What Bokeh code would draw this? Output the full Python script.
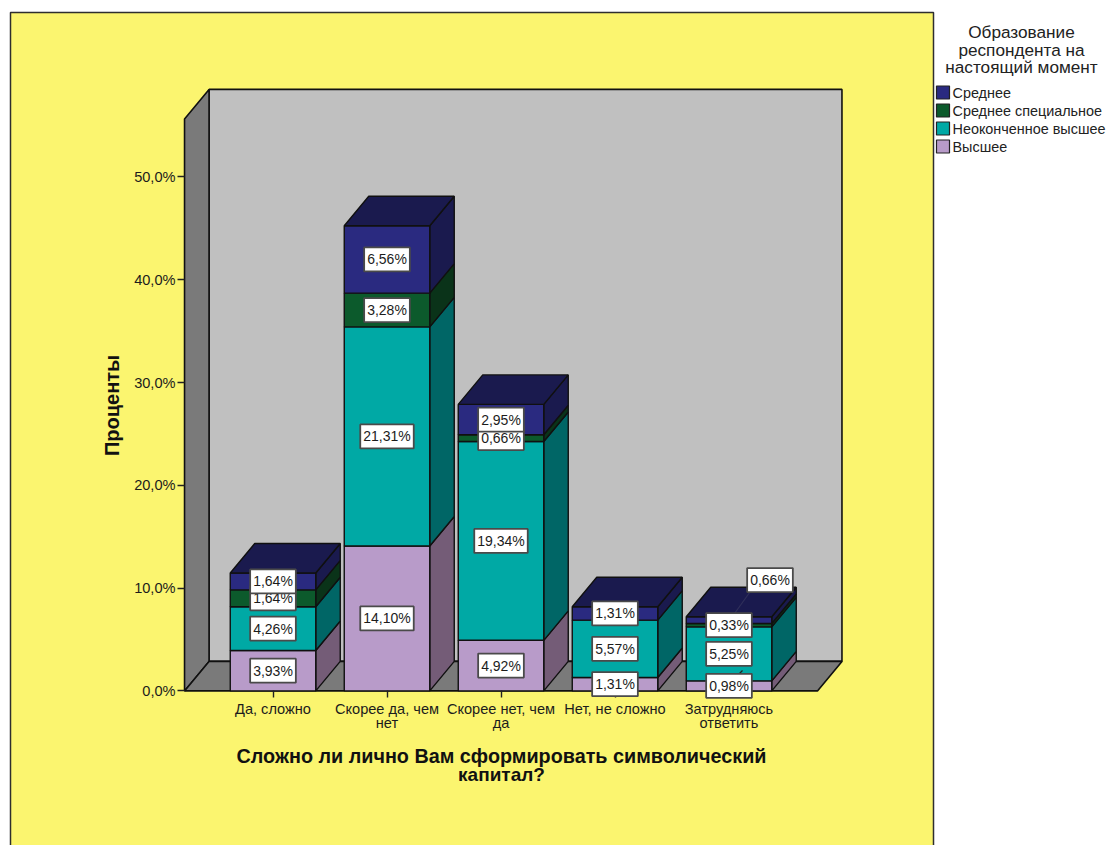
from bokeh.embed import file_html
from bokeh.resources import INLINE
from bokeh.plotting import figure
from bokeh.models import BoxAnnotation, FixedTicker, Label, LinearAxis, Range1d
from bokeh.core.properties import value

# Survey results, percent of respondents
categories = ["Да, сложно", "Скорее да, чем\nнет", "Скорее нет, чем\nда", "Нет, не сложно", "Затрудняюсь\nответить"]
vysshee = [3.93, 14.10, 4.92, 1.31, 0.98]
neokonchennoe = [4.26, 21.31, 19.34, 5.57, 5.25]
spetsialnoe = [1.64, 3.28, 0.66, 0.00, 0.33]
srednee = [1.64, 6.56, 2.95, 1.31, 0.66]

series_names = ["Высшее", "Неоконченное высшее", "Среднее специальное", "Среднее"]
series_values = [vysshee, neokonchennoe, spetsialnoe, srednee]
front_colors = ["#B89BC9", "#00A9A5", "#0C5A2C", "#2A2A80"]
side_colors = ["#745C77", "#006666", "#0A3319", "#1A1A4E"]
y_ticks = [0, 10, 20, 30, 40, 50]
y_tick_labels = ["0,0%", "10,0%", "20,0%", "30,0%", "40,0%", "50,0%"]
legend_title = ["Образование", "респондента на", "настоящий момент"]

# Page geometry: data scales are chosen so the plot frame fills the window
W, H = 1107, 845
PX_PER_CAT = 114.0
PX_PER_PCT = 10.28
X0_PX = 272.5
Y0_PX = 690.4
BAR_W = 85.5 / PX_PER_CAT
DX = 24.5 / PX_PER_CAT
DY = 29.5 / PX_PER_PCT
FLOOR_L = -0.776
FLOOR_R = 4.776
WALL_TOP = 55.64
FONT = value("Liberation Sans")
INK = "#1C1C1C"


def px_x(px):
    return (px - X0_PX) / PX_PER_CAT


def px_y(py):
    return (Y0_PX - py) / PX_PER_PCT


p = figure(
    width=W, height=H, output_backend="svg", toolbar_location=None,
    x_range=Range1d(px_x(0), px_x(W)), y_range=Range1d(px_y(H), px_y(0)),
    min_border=0, x_axis_type=None, y_axis_type=None,
    background_fill_color="white", border_fill_color="white", outline_line_color=None,
)
p.grid.visible = False


def screen_box(left, right, top, bottom, **kw):
    """Rectangle given in page pixels measured from the top edge."""
    return BoxAnnotation(left=left, right=right, top=H - top, bottom=H - bottom,
                         left_units="screen", right_units="screen",
                         top_units="screen", bottom_units="screen",
                         fill_alpha=1.0, line_alpha=1.0, **kw)


# Yellow chart panel, open towards the bottom of the page
p.add_layout(screen_box(10, 933, 12, H + 10, fill_color="#FBF56F",
                        line_color="#2E2E2E", line_width=1.5, level="underlay"))

# Box of the 3D scene: back wall, left wall, floor
edge = dict(line_color="#101010", line_width=1.6)
p.patch([FLOOR_L + DX, FLOOR_R + DX, FLOOR_R + DX, FLOOR_L + DX],
        [DY, DY, WALL_TOP + DY, WALL_TOP + DY], fill_color="#C0C0C0", **edge)
p.patch([FLOOR_L, FLOOR_L + DX, FLOOR_L + DX, FLOOR_L],
        [0, DY, WALL_TOP + DY, WALL_TOP], fill_color="#7A7A7A", **edge)
p.patch([FLOOR_L, FLOOR_R, FLOOR_R + DX, FLOOR_L + DX],
        [0, 0, DY, DY], fill_color="#7A7A7A", **edge)

# Stacked columns with side and top faces
positions = list(range(len(categories)))
bottoms = [0.0] * len(categories)
label_layers = []
for s, vals in enumerate(series_values):
    tops = [b + v for b, v in zip(bottoms, vals)]
    keep = [i for i, v in enumerate(vals) if v > 0]
    right = [positions[i] + BAR_W / 2 for i in keep]
    p.patches(
        [[r, r + DX, r + DX, r] for r in right],
        [[bottoms[i], bottoms[i] + DY, tops[i] + DY, tops[i]] for i in keep],
        fill_color=side_colors[s], line_color="#101010", line_width=1.4,
    )
    p.vbar(x=[positions[i] for i in keep], width=BAR_W,
           bottom=[bottoms[i] for i in keep], top=[tops[i] for i in keep],
           fill_color=front_colors[s], line_color="#101010", line_width=1.4)
    label_layers.append((keep, [(bottoms[i] + tops[i]) / 2 for i in keep], vals))
    bottoms = tops

p.patches(
    [[x - BAR_W / 2, x + BAR_W / 2, x + BAR_W / 2 + DX, x - BAR_W / 2 + DX] for x in positions],
    [[t, t, t + DY, t + DY] for t in bottoms],
    fill_color=side_colors[3], line_color="#101010", line_width=1.4,
)

# Leader lines of the displaced labels
p.line([px_x(729), px_x(752)], [px_y(620), px_y(588)], line_color="#30305A", line_width=1.2)
p.line([px_x(737), px_x(742)], [px_y(675), px_y(670)], line_color="#222222", line_width=1.2)

# Value labels, drawn bottom-up so that higher boxes cover lower ones and the ticks
for s, (keep, mids, vals) in enumerate(label_layers):
    shift = [(41, -40) if (i == 4 and s == 3) else (0, 0) for i in keep]
    p.text(
        x=[positions[i] for i in keep], y=mids,
        text=[f"{vals[i]:.2f}%".replace(".", ",") for i in keep],
        x_offset=[d[0] for d in shift], y_offset=[d[1] for d in shift],
        text_font=FONT, text_font_size="14px", text_color=INK,
        text_align="center", text_baseline="middle",
        background_fill_color="white", border_line_color="#4A4A4A", border_line_width=1.8,
        padding=(3, 4), level="annotation",
    )

# Axes pinned to the front edge of the scene
yaxis = LinearAxis(fixed_location=FLOOR_L, ticker=FixedTicker(ticks=y_ticks),
                   major_label_overrides=dict(zip(y_ticks, y_tick_labels)))
xaxis = LinearAxis(fixed_location=0, ticker=FixedTicker(ticks=positions),
                   major_label_overrides=dict(zip(positions, categories)))
for axis in (xaxis, yaxis):
    axis.axis_line_color = None
    axis.major_tick_line_color = "#222222"
    axis.major_tick_line_width = 1.4
    axis.minor_tick_line_color = None
    axis.major_tick_out = 7
    axis.major_tick_in = 0
    axis.major_label_text_font = "Liberation Sans"
    axis.major_label_text_font_size = "14.6px"
    axis.major_label_text_color = INK
xaxis.major_label_standoff = 3
xaxis.major_label_text_line_height = 0.9
yaxis.major_label_standoff = 2
p.add_layout(yaxis, "left")
p.add_layout(xaxis, "below")

# Axis titles
p.add_layout(Label(x=111, y=H - 405, x_units="screen", y_units="screen", text="Проценты",
                   angle=90, angle_units="deg", text_align="center", text_baseline="middle",
                   text_font="Liberation Sans", text_font_style="bold", text_font_size="20px",
                   text_color="#111111"))
for py, line, size in zip((755, 774), ("Сложно ли лично Вам сформировать символический", "капитал?"),
                          ("19.8px", "19px")):
    p.add_layout(Label(x=501, y=H - py, x_units="screen", y_units="screen", text=line,
                       text_align="center", text_baseline="middle",
                       text_font="Liberation Sans", text_font_style="bold", text_font_size=size,
                       text_color="#111111"))

# Legend
for py, line in zip((31, 49, 66), legend_title):
    p.add_layout(Label(x=1021, y=H - py, x_units="screen", y_units="screen", text=line,
                       text_align="center", text_baseline="middle",
                       text_font="Liberation Sans", text_font_size="17.2px", text_color="#222222"))
for row, s in enumerate(reversed(range(len(series_names)))):
    cy = 92 + row * 18
    p.add_layout(screen_box(936, 949, cy - 6.5, cy + 6.5, fill_color=front_colors[s],
                            line_color="#222222", line_width=1.2))
    p.add_layout(Label(x=952, y=H - cy, x_units="screen", y_units="screen", text=series_names[s],
                       text_align="left", text_baseline="middle",
                       text_font="Liberation Sans", text_font_size="14.4px", text_color="#222222"))

open("out.html", "w").write(file_html(p, INLINE))
